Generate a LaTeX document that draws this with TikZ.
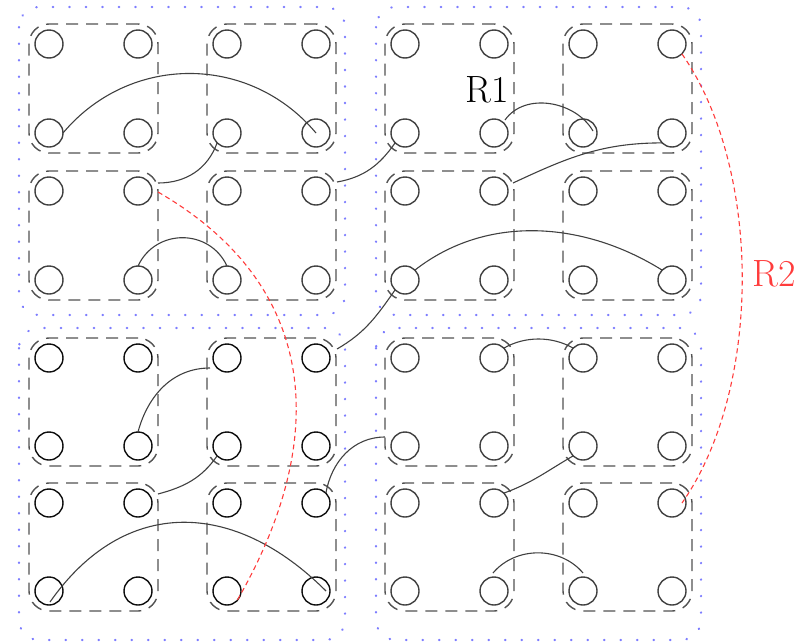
\documentclass[tikz,border=0pt]{standalone}
\usetikzlibrary{calc,fit}
\definecolor{qblue}{RGB}{125,125,255}
\definecolor{rdash}{RGB}{255,60,60}
\begin{document}
\begin{tikzpicture}[x=1pt,y=1pt,
  quad/.style={draw=qblue, line width=2.4pt, line cap=round, dash pattern=on 0.3pt off 16.2pt, rounded corners=20pt},
  grp/.style={draw=black!68, line width=1.4pt, dash pattern=on 12pt off 8pt, rounded corners=20pt, rectangle, inner sep=6pt},
  qubit/.style={circle, draw=black!75, line width=1.4pt, minimum size=28pt, inner sep=0pt, outer sep=0pt},
  qubitdark/.style={qubit, draw=black!95},
  link/.style={draw=black!75, line width=1.1pt},
  rlink/.style={draw=rdash, line width=1.1pt, dash pattern=on 5pt off 3.5pt},
  lbl/.style={font=\fontsize{38}{42}\selectfont, inner sep=0pt}]
\useasboundingbox (0,0) rectangle (805,-643);
% quadrant frames
\draw[quad] (19,-7) rectangle (345,-315);
\draw[quad] (376,-7) rectangle (701,-315);
\draw[quad] (19,-328) rectangle (345,-640);
\draw[quad] (376,-328) rectangle (701,-640);
% qubits
\foreach \yy [count=\r] in {44,133,191,280,358,446,503,591} {
  \foreach \xx [count=\c] in {49,138,227,316,405,494,583,672} {
    \ifnum\r>4 \ifnum\c<5
      \node[qubitdark] (c\r\c) at (\xx,-\yy) {};
    \else
      \node[qubit] (c\r\c) at (\xx,-\yy) {};
    \fi
    \else
      \node[qubit] (c\r\c) at (\xx,-\yy) {};
    \fi
  }
}
% groups
\foreach \ra/\rb in {1/2,3/4,5/6,7/8} {
  \foreach \ca/\cb in {1/2,3/4,5/6,7/8} {
    \node[grp, fit=(c\ra\ca)(c\rb\cb)] (g\ra\ca) {};
  }
}
% links, top-left
\draw[link] (c21.east) to[out=50,in=130,looseness=1.05] (c24.center);
\draw[link] ($(c32)+(20,8)$) to[out=0,in=-110] (c23.south west);
\draw[link] (c42.north) to[out=65,in=115,looseness=1.2] (c43.north);
\draw[link] ($(c34)+(21,9)$) to[out=10,in=-125] (c25.south west);
% top-right
\draw[link] ($(c26)+(11,13)$) to[out=55,in=120] ($(c27)+(10,2)$);
\draw[link] ($(c36)+(19,8)$) to[out=25,in=180] (c28.south west);
\draw[link] (c45.north east) to[out=38,in=148,looseness=0.95] (c48.north west);
\draw[link] ($(c54)+(21,9)$) to[out=30,in=-125] (c45.south west);
% bottom-left
\draw[link] (c62.north) to[out=75,in=180] ($(c53)+(-17,-10)$);
\draw[link] ($(c72)+(20,9)$) to[out=15,in=-125] (c63.south west);
\draw[link] ($(c81)+(1,-11)$) to[out=55,in=135,looseness=1.2] ($(c84)+(10,0)$);
\draw[link] (c74.north east) to[out=80,in=180] ($(c65)+(-20,9)$);
% bottom-right
\draw[link] (c56.north east) to[out=30,in=150,looseness=0.9] (c57.north west);
\draw[link] (c76.north east) to[out=20,in=-150] (c67.south west);
\draw[link] ($(c86)+(-1,18)$) to[out=50,in=130] ($(c87)+(0,18)$);
% red routes
\draw[rlink] ($(c32)+(20,-1)$) to[out=-30,in=60,looseness=1.15] (c83.south east);
\draw[rlink] (c18.south east) to[out=-55,in=55,looseness=0.8] ($(c78)+(10,0)$);
% labels
\node[lbl] (r1) at (487,-90) {R1};
\node[lbl, text=rdash] (r2) at (774,-274) {R2};
\end{tikzpicture}
\end{document}
